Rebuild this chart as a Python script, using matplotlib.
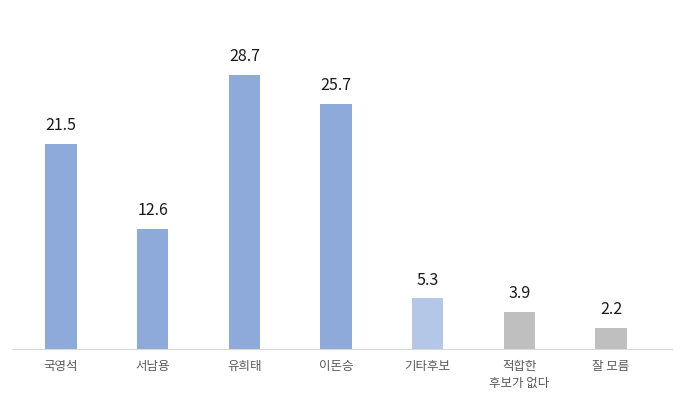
import matplotlib.pyplot as plt

plt.rcParams['font.family'] = ['Noto Sans CJK KR', 'DejaVu Sans']

# 데이터
categories = ['국영석', '서남용', '유희태', '이돈승', '기타후보', '적합한\n후보가 없다', '잘 모름']
values = [21.5, 12.6, 28.7, 25.7, 5.3, 3.9, 2.2]
colors = ['#8eaadb', '#8eaadb', '#8eaadb', '#8eaadb', '#b4c7e7', '#bfbfbf', '#bfbfbf']

fig = plt.figure(figsize=(6.8, 4.15), dpi=100)
ax = fig.add_axes([12/680, 1-349/415, 660/680, 319/415])

x = range(len(categories))
bars = ax.bar(x, values, width=0.34, color=colors)
for b, v in zip(bars, values):
    ax.text(b.get_x() + b.get_width()/2, v + 1.0, f'{v}', ha='center', va='bottom',
            fontsize=11.5, color='#1a1a1a')

ax.set_xlim(-0.535, 6.665)
ax.set_ylim(0, 33.4)
ax.set_xticks(list(x))
ax.set_xticklabels(categories, fontsize=9, color='#595959', linespacing=1.4, va='top')
ax.tick_params(axis='x', length=0, pad=8)
ax.set_yticks([])
for s in ['top', 'right', 'left']:
    ax.spines[s].set_visible(False)
ax.spines['bottom'].set_color('#d9d9d9')

fig.savefig('out.png', dpi=100)
